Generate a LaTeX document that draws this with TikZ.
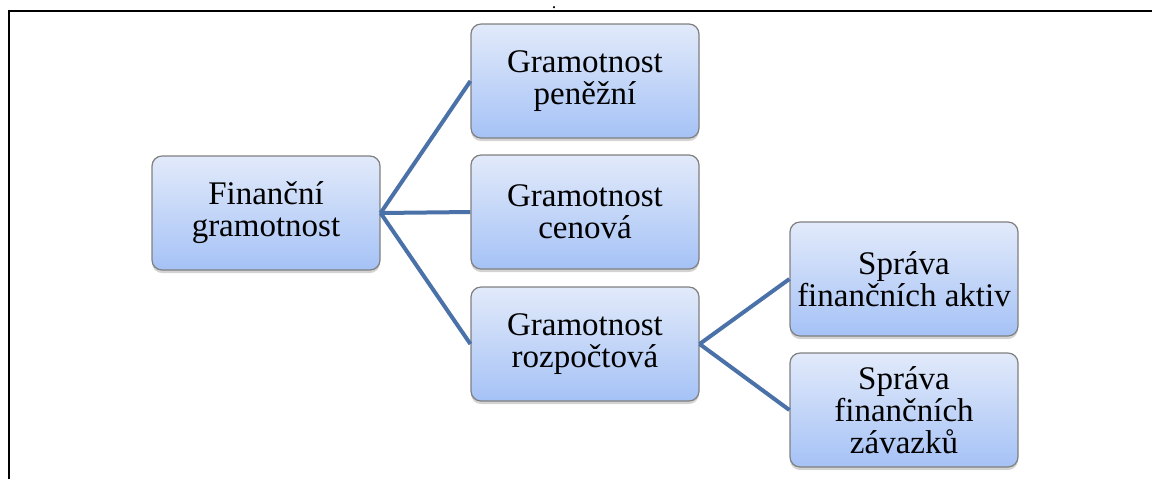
\documentclass[tikz,border=0pt]{standalone}
\usepackage{fontspec}
\setmainfont{Liberation Serif}
\newfontfamily\boxfont{Liberation Serif}
\usetikzlibrary{shadows}
\definecolor{boxtop}{HTML}{E2EAFA}
\definecolor{boxbot}{HTML}{A5C2F6}
\definecolor{boxline}{HTML}{7F7F7F}
\definecolor{linkblue}{HTML}{4A72A8}
\begin{document}
\begin{tikzpicture}[x=0.5pt, y=-0.5pt,
        box/.style={rectangle, rounded corners=5pt, draw=boxline, line width=0.6pt,
            top color=boxtop, bottom color=boxbot, minimum width=114pt, minimum height=57pt,
            inner sep=1pt, align=center, font=\boxfont\fontsize{16.5}{16}\selectfont,
            drop shadow={shadow xshift=0pt, shadow yshift=-1.5pt, opacity=0.35}},
        link/.style={draw=linkblue, line width=2pt}]
        \useasboundingbox (0,0) rectangle (1152,479);

        % Frame
        \draw[line width=1pt] (8,10.5) -- (1152,10.5);
        \draw[line width=1pt] (8.5,10) -- (8.5,479);
        \node[inner sep=0pt, font=\boxfont\small, anchor=base] (dot) at (554,8) {.};

        % Nodes
        \node[box] (fin) at (266, 213) {Finanční\\gramotnost};
        \node[box] (pen) at (585, 81) {Gramotnost\\peněžní};
        \node[box] (cen) at (585, 212) {Gramotnost\\cenová};
        \node[box] (roz) at (585, 344) {Gramotnost\\rozpočtová};
        \node[box] (akt) at (904, 279) {Správa\\finančních aktiv};
        \node[box] (zav) at (904, 410) {Správa\\finančních\\závazků};

        % Edges
        \draw[link] (fin.east) -- (pen.west);
        \draw[link] (fin.east) -- (cen.west);
        \draw[link] (fin.east) -- (roz.west);
        \draw[link] (roz.east) -- (akt.west);
        \draw[link] (roz.east) -- (zav.west);
    \end{tikzpicture}
\end{document}
